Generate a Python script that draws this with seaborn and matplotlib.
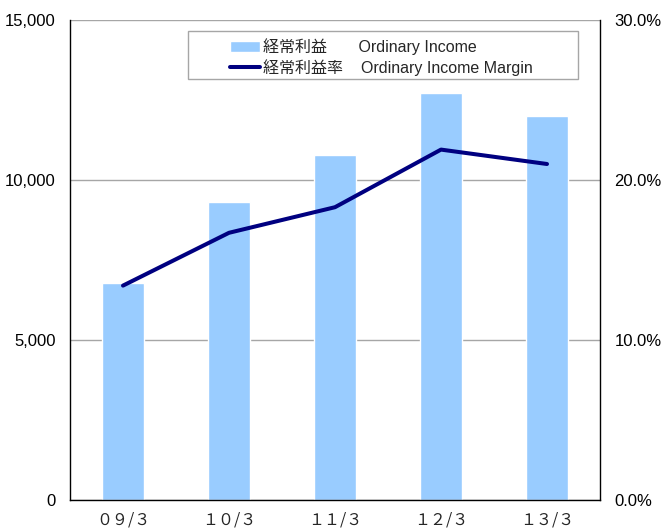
import matplotlib
matplotlib.use("Agg")
import matplotlib.pyplot as plt
import seaborn as sns
import pandas as pd
from matplotlib.patches import Rectangle
from matplotlib.ticker import FuncFormatter, FixedLocator

categories = ["０９/３", "１０/３", "１１/３", "１２/３", "１３/３"]
ordinary_income = [6780, 9320, 10770, 12720, 12000]
income_margin = [13.4, 16.7, 18.3, 21.9, 21.0]
left_ticks = [0, 5000, 10000, 15000]
right_ticks = [0, 10, 20, 30]
label_bar = "経常利益       Ordinary Income"
label_line = "経常利益率    Ordinary Income Margin"

sns.set_theme(style="white")
plt.rcParams["font.family"] = ["Liberation Sans", "Noto Sans CJK JP", "DejaVu Sans"]

df = pd.DataFrame({"cat": categories, "income": ordinary_income, "margin": income_margin})

fig = plt.figure(figsize=(6.65, 5.3), dpi=100)
ax = fig.add_axes([70/665, 30/530, 530/665, 480/530])

sns.barplot(data=df, x="cat", y="income", color="#99CCFF", saturation=1,
            width=0.4, ax=ax, label=label_bar)
if ax.get_legend() is not None:
    ax.get_legend().remove()
ax.set_ylim(0, 15000)
ax.set_xlim(-0.5, 4.5)
ax.set_yticks(left_ticks)
ax.yaxis.set_major_formatter(FuncFormatter(lambda v, p: f"{int(v):,}"))
ax.grid(axis="y", color="#A6A6A6", linewidth=1)
ax.set_axisbelow(True)
ax.set_xlabel("")
ax.set_ylabel("")
for s in ["left", "bottom"]:
    ax.spines[s].set_color("black")
    ax.spines[s].set_linewidth(1)
ax.spines["top"].set_visible(False)
ax.spines["right"].set_visible(False)
ax.tick_params(axis="y", length=0, pad=10.5, labelsize=12, colors="black")
ax.tick_params(axis="x", which="major", length=0, pad=8)
for lbl in ax.get_xticklabels():
    lbl.set_fontfamily(["Noto Sans CJK JP"])
    lbl.set_fontsize(11.5)
ax.xaxis.set_minor_locator(FixedLocator([0.5, 1.5, 2.5, 3.5]))
ax.tick_params(axis="x", which="minor", direction="in", length=5, color="#A6A6A6", width=1)

ax2 = ax.twinx()
sns.lineplot(data=df, x="cat", y="margin", color="#000080", linewidth=2.9,
             ax=ax2, label=label_line, legend=False)
ax2.set_ylim(0, 30)
ax2.set_yticks(right_ticks)
ax2.yaxis.set_major_formatter(FuncFormatter(lambda v, p: f"{v:.1f}%"))
ax2.set_ylabel("")
ax2.spines["top"].set_visible(False)
ax2.spines["left"].set_visible(False)
ax2.spines["bottom"].set_visible(False)
ax2.spines["right"].set_color("black")
ax2.spines["right"].set_linewidth(1)
ax2.tick_params(axis="y", length=0, pad=10.5, labelsize=12, colors="black")

h1, l1 = ax.get_legend_handles_labels()
h2, l2 = ax2.get_legend_handles_labels()
leg = ax2.legend(h1 + h2, l1 + l2, loc="upper left",
                 bbox_to_anchor=(222/665, 1 - 30/530), bbox_transform=fig.transFigure,
                 frameon=False, fontsize=11.5, handlelength=1.9, handletextpad=0.15,
                 labelspacing=0.25, borderpad=0)
fig.patches.append(Rectangle((188/665, 1 - 79/530), 390/665, 48/530,
                             transform=fig.transFigure, fill=False,
                             edgecolor="#A6A6A6", linewidth=1, zorder=5))

fig.savefig("out.png", dpi=100)
